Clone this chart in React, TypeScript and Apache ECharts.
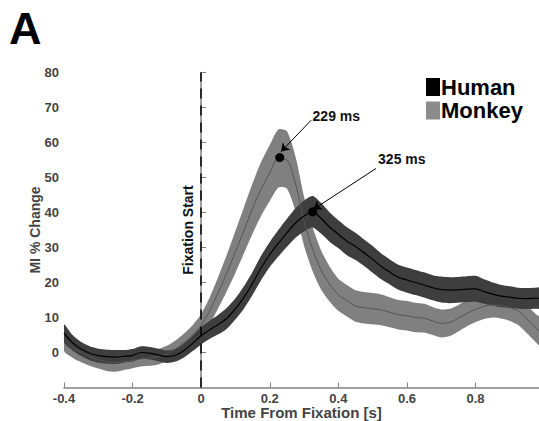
import React, { useEffect, useRef } from 'react';
import * as echarts from 'echarts';

// Time axis (s)
const timeS = [
  -0.4, -0.375, -0.35, -0.325, -0.3, -0.275, -0.25, -0.225, -0.2, -0.175,
  -0.15, -0.125, -0.1, -0.075, -0.05, -0.025, 0, 0.025, 0.05, 0.075,
  0.1, 0.125, 0.15, 0.175, 0.2, 0.225, 0.25, 0.275, 0.3, 0.325,
  0.35, 0.375, 0.4, 0.425, 0.45, 0.475, 0.5, 0.525, 0.55, 0.575,
  0.6, 0.625, 0.65, 0.675, 0.7, 0.725, 0.75, 0.775, 0.8, 0.825,
  0.85, 0.875, 0.9, 0.925, 0.95, 0.975, 1.0,
];

// Human: mean MI % change and half-width of shaded band
const humanMean = [
  5.5, 2.8, 1.0, -0.2, -0.9, -1.2, -1.3, -1.1, -0.8, 0.0,
  -0.2, -0.7, -1.2, -0.8, 0.6, 2.6, 4.8, 6.5, 8.0, 9.8,
  12.5, 15.8, 19.8, 24.2, 28.0, 31.2, 34.2, 37.0, 39.0, 40.2,
  38.3, 35.8, 33.8, 31.8, 30.3, 28.5, 26.6, 24.6, 23.0, 21.5,
  20.7, 20.0, 19.3, 18.5, 18.0, 17.8, 17.9, 18.1, 18.2, 17.4,
  16.7, 16.1, 15.8, 15.5, 15.4, 15.5, 15.5,
];
const humanErr = [
  2.5, 2.2, 2.0, 2.0, 2.0, 2.0, 2.0, 1.8, 1.8, 1.8,
  1.8, 1.8, 1.8, 1.8, 2.0, 2.2, 2.5, 2.6, 2.8, 3.0,
  3.0, 3.2, 3.3, 3.5, 3.6, 3.8, 4.0, 4.2, 4.4, 4.5,
  4.4, 4.2, 4.0, 4.0, 3.9, 3.8, 3.8, 3.7, 3.6, 3.6,
  3.6, 3.6, 3.6, 3.6, 3.7, 3.7, 3.7, 3.7, 3.7, 3.5,
  3.3, 3.2, 3.1, 3.0, 3.0, 3.0, 3.0,
];

// Monkey: mean MI % change and half-width of shaded band
const monkeyMean = [
  4.0, 1.5, 0.0, -1.2, -2.0, -2.7, -2.9, -2.6, -2.3, -1.8,
  -1.6, -1.2, -0.3, 1.0, 2.8, 5.0, 7.8, 12.0, 17.2, 22.8,
  28.8, 35.0, 41.2, 46.8, 51.3, 55.4, 55.0, 48.2, 37.5, 29.5,
  23.5, 19.5, 16.5, 14.8, 13.3, 12.8, 12.5, 12.2, 11.5, 10.8,
  10.5, 10.0, 9.8, 9.0, 8.3, 8.6, 9.8, 11.2, 12.3, 13.2,
  13.6, 13.4, 12.8, 11.8, 9.5, 7.0, 5.0,
];
const monkeyErr = [
  3.5, 3.0, 2.8, 2.6, 2.6, 2.6, 2.6, 2.4, 2.2, 2.2,
  2.2, 2.2, 2.2, 2.4, 2.6, 2.8, 3.2, 3.8, 4.5, 5.2,
  6.0, 6.6, 7.2, 7.7, 8.0, 8.3, 8.2, 7.8, 7.0, 6.3,
  5.6, 5.0, 4.6, 4.5, 4.5, 4.5, 4.5, 4.4, 4.3, 4.2,
  4.2, 4.2, 4.1, 4.0, 4.0, 3.9, 3.8, 3.7, 3.6, 3.6,
  3.6, 3.7, 3.8, 4.0, 4.0, 4.0, 4.0,
];

// Peak annotations
const peakLabels = ['229 ms', '325 ms'];
const peakTimes = [0.229, 0.325];
const peakValues = [55.7, 40.2];

// Tick labels
const xTicks = [-0.4, -0.2, 0, 0.2, 0.4, 0.6, 0.8];
const yTicks = [0, 10, 20, 30, 40, 50, 60, 70, 80];

const FONT = 'Liberation Sans, Arial, Helvetica, sans-serif';

function bandSeries(key: string, mean: number[], err: number[], color: string) {
  return {
    name: key + ' band',
    type: 'custom',
    silent: true,
    data: [[timeS[0], mean[0]]],
    renderItem: (params: any, api: any) => {
      const upper = timeS.map((t, i) => api.coord([t, mean[i] + err[i]]));
      const lower = timeS.map((t, i) => api.coord([t, mean[i] - err[i]])).reverse();
      const cs = params.coordSys;
      return {
        type: 'group',
        clipPath: { type: 'rect', shape: { x: cs.x, y: cs.y, width: cs.width, height: cs.height } },
        children: [
          {
            type: 'polygon',
            shape: { points: upper.concat(lower), smooth: 0.25 },
            style: { fill: color, stroke: 'none' },
          },
        ],
      };
    },
  };
}

export default function App() {
  const ref = useRef<HTMLDivElement>(null);

  useEffect(() => {
    if (!ref.current) return;
    const chart = echarts.init(ref.current, undefined, { renderer: 'svg' });

    const annotationLayout = [
      { text: [0.394, 67.6], from: [0.321, 66.4], to: [0.233, 57.4] },
      { text: [0.585, 55.3], from: [0.51, 52.6], to: [0.327, 40.9] },
    ];

    const option: any = {
      animation: false,
      backgroundColor: '#ffffff',
      title: {
        text: 'A',
        left: 4,
        top: 1,
        textStyle: { fontSize: 45, fontWeight: 'bold', color: '#000', fontFamily: FONT },
      },
      legend: {
        orient: 'vertical',
        left: 421,
        top: 71,
        itemWidth: 14,
        itemHeight: 18,
        itemGap: 1.5,
        selectedMode: false,
        textStyle: {
          fontSize: 22,
          fontWeight: 'bold',
          color: '#000',
          fontFamily: FONT,
          lineHeight: 18,
          padding: [0, 0, 0, -4],
        },
        data: [
          { name: 'Human', icon: 'rect', itemStyle: { color: '#000000' } },
          { name: 'Monkey', icon: 'rect', itemStyle: { color: '#8c8c8c' } },
        ],
      },
      grid: {
        left: 64,
        right: 0,
        top: 72.5,
        bottom: 33.5,
        outerBoundsMode: 'none',
      },
      xAxis: {
        type: 'value',
        min: -0.4,
        max: 0.985,
        interval: 0.2,
        name: 'Time From Fixation [s]',
        nameLocation: 'middle',
        nameGap: 17.5,
        nameMoveOverlap: false,
        nameTextStyle: { fontSize: 15, lineHeight: 15, fontWeight: 'bold', color: '#444', fontFamily: FONT },
        axisLine: { onZero: false, lineStyle: { color: '#808080', width: 1.5 } },
        axisTick: { inside: true, length: 5, customValues: xTicks, lineStyle: { color: '#808080', width: 1 } },
        axisLabel: {
          customValues: xTicks,
          margin: 4,
          fontSize: 13,
          lineHeight: 13,
          fontWeight: 'bold',
          color: '#444',
          fontFamily: FONT,
          formatter: (v: number) => String(Math.round(v * 10) / 10),
        },
        splitLine: { show: false },
      },
      yAxis: {
        type: 'value',
        min: -10,
        max: 80,
        interval: 10,
        name: 'MI % Change',
        nameLocation: 'middle',
        nameGap: 22,
        nameMoveOverlap: false,
        nameRotate: 90,
        nameTextStyle: { fontSize: 14, fontWeight: 'bold', color: '#444', fontFamily: FONT },
        axisLine: { show: true, lineStyle: { color: '#808080', width: 1.5 } },
        axisTick: { show: true, inside: true, length: 5, customValues: yTicks, lineStyle: { color: '#808080', width: 1 } },
        axisLabel: {
          customValues: yTicks,
          margin: 5,
          fontSize: 13,
          fontWeight: 'bold',
          color: '#444',
          fontFamily: FONT,
        },
        splitLine: { show: false },
      },
      series: [
        bandSeries('monkey', monkeyMean, monkeyErr, '#808080'),
        {
          name: 'Monkey',
          type: 'line',
          data: timeS.map((t, i) => [t, monkeyMean[i]]),
          symbol: 'none',
          showSymbol: false,
          smooth: 0.3,
          itemStyle: { color: '#8c8c8c' },
          lineStyle: { color: '#555555', width: 1 },
        },
        bandSeries('human', humanMean, humanErr, '#3e3e3e'),
        {
          name: 'Human',
          type: 'line',
          data: timeS.map((t, i) => [t, humanMean[i]]),
          symbol: 'none',
          showSymbol: false,
          smooth: 0.3,
          itemStyle: { color: '#000' },
          lineStyle: { color: '#000', width: 1.2 },
          markLine: {
            silent: true,
            symbol: ['none', 'none'],
            data: [
              {
                xAxis: 0,
                lineStyle: { type: [10, 7], color: '#000', width: 1.5 },
                label: {
                  show: true,
                  formatter: 'Fixation Start',
                  position: 'insideMiddleTop',
                  distance: 6,
                  fontSize: 14,
                  fontWeight: 'bold',
                  color: '#111',
                  fontFamily: FONT,
                },
              },
            ],
          },
        },
        {
          name: 'annotations',
          type: 'line',
          data: [],
          symbol: 'none',
          silent: true,
          z: 10,
          markLine: {
            silent: true,
            symbol: ['none', 'arrow'],
            symbolSize: 8,
            lineStyle: { type: 'solid', color: '#000', width: 1 },
            label: { show: false },
            data: annotationLayout.map((a) => [{ coord: a.from }, { coord: a.to }]),
          },
          markPoint: {
            silent: true,
            data: [
              ...peakTimes.map((t, i) => ({
                coord: [t, peakValues[i]],
                symbol: 'circle',
                symbolSize: 9,
                itemStyle: { color: '#000' },
                label: { show: false },
              })),
              ...peakLabels.map((lab, i) => ({
                coord: annotationLayout[i].text,
                symbol: 'circle',
                symbolSize: 0,
                label: {
                  show: true,
                  position: 'inside',
                  formatter: lab,
                  fontSize: 14,
                  fontWeight: 'bold',
                  color: '#111',
                  fontFamily: FONT,
                },
              })),
            ],
          },
        },
      ],
    };

    chart.setOption(option);
    return () => chart.dispose();
  }, []);

  return (
    <div
      ref={ref}
      style={{ position: 'fixed', left: 0, top: 0, width: 539, height: 421, background: '#fff' }}
    />
  );
}
